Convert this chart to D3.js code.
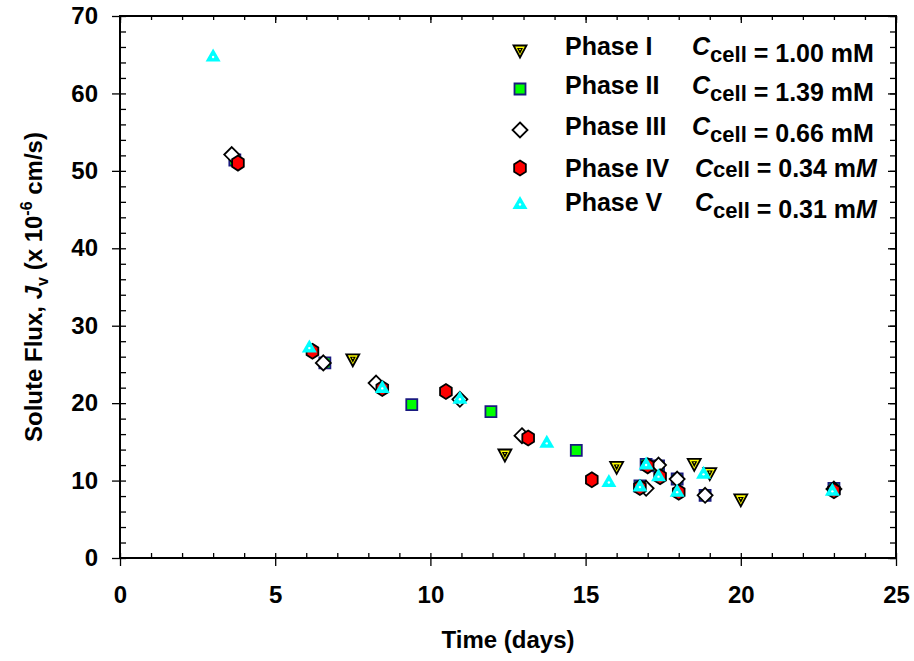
<!DOCTYPE html>
<html>
<head>
<meta charset="utf-8">
<script src="https://cdn.jsdelivr.net/npm/d3@7.9.0/dist/d3.min.js"></script>
<style>
  body { margin: 0; background: #fff; }
  svg { font-family: "Liberation Sans", Arial, sans-serif; font-weight: bold; }
</style>
</head>
<body>
<svg id="chart" width="914" height="661"></svg>
<script>
// tick labels
const xTicks = [0, 5, 10, 15, 20, 25];
const yTicks = [0, 10, 20, 30, 40, 50, 60, 70];

// series (days, flux x 1e-6 cm/s)
const phase1Days = [7.5, 12.4, 16.0, 18.5, 19.0, 20.0];
const phase1Flux = [25.6, 13.3, 11.7, 12.1, 10.9, 7.5];

const phase2Days = [3.7, 6.6, 9.4, 11.95, 14.7, 16.75, 16.95, 17.35, 17.95, 18.85, 23.0];
const phase2Flux = [51.4, 25.2, 19.8, 18.9, 13.9, 9.3, 12.1, 11.9, 10.2, 8.1, 9.0];

const phase3Days = [3.6, 6.55, 8.25, 10.95, 12.95, 16.95, 17.35, 17.95, 18.85, 23.0];
const phase3Flux = [52.1, 25.2, 22.6, 20.5, 15.8, 9.0, 12.0, 10.2, 8.1, 8.9];

const phase4Days = [3.8, 6.2, 8.45, 10.5, 13.15, 15.2, 16.75, 17.0, 17.4, 18.0, 23.0];
const phase4Flux = [51.0, 26.7, 21.9, 21.5, 15.5, 10.1, 9.1, 11.9, 10.5, 8.5, 8.7];

const phase5Days = [3.0, 6.1, 8.45, 10.95, 13.75, 15.75, 16.75, 16.95, 17.35, 17.95, 18.8, 22.95];
const phase5Flux = [64.9, 27.3, 22.1, 20.7, 15.0, 9.95, 9.35, 12.2, 10.7, 8.7, 11.0, 8.8];

const phaseNames = ["Phase I", "Phase II", "Phase III", "Phase IV", "Phase V"];
const phaseConc = ["1.00", "1.39", "0.66", "0.34", "0.31"];

const svg = d3.select("#chart");
const margin = { top: 16, right: 18, bottom: 103, left: 120 };
const width = 914 - margin.left - margin.right;
const height = 661 - margin.top - margin.bottom;

const g = svg.append("g").attr("transform", `translate(${margin.left},${margin.top})`);

const x = d3.scaleLinear().domain([0, 25]).range([0, width]);
const y = d3.scaleLinear().domain([0, 70]).range([height, 0]);

// marker shapes
function shapePath(kind) {
  switch (kind) {
    case "tridown": return "M-6.5,-5.5L6.5,-5.5L0,6.5Z";
    case "square": return "M-5.5,-5.5H5.5V5.5H-5.5Z";
    case "diamond": return "M0,-7.5L7.5,0L0,7.5L-7.5,0Z";
    case "hex": {
      const r = 7.5;
      return d3.range(6).map(i => {
        const a = Math.PI / 3 * i - Math.PI / 2;
        return (i ? "L" : "M") + (r * 0.9 * Math.cos(a)).toFixed(2) + "," + (r * Math.sin(a)).toFixed(2);
      }).join("") + "Z";
    }
    case "triup": return "M0,-7L7.5,6L-7.5,6Z";
  }
}

const styles = [
  { kind: "tridown", fill: "#ffff00", stroke: "#000" },
  { kind: "square", fill: "#00ff00", stroke: "#1a1a80" },
  { kind: "diamond", fill: "#ffffff", stroke: "#000" },
  { kind: "hex", fill: "#ff0000", stroke: "#000" },
  { kind: "triup", fill: "#00ffff", stroke: "none" }
];

function drawMarker(sel, st) {
  sel.append("path")
    .attr("d", shapePath(st.kind))
    .attr("fill", st.fill)
    .attr("stroke", st.stroke)
    .attr("stroke-width", 1.8)
    .attr("stroke-linejoin", "miter");
  if (st.kind === "tridown") {
    sel.append("path").attr("d", "M-3,-3L3,-3L0,3Z").attr("fill", "#000");
    sel.append("circle").attr("r", 0.8).attr("cy", -1.5).attr("fill", "#ffff00");
  }
  if (st.kind === "triup") {
    sel.append("circle").attr("r", 1.2).attr("cy", 1.5).attr("fill", "#fff");
  }
}

// axes: major ticks outside, minor ticks inside
g.append("g").attr("transform", `translate(0,${height})`)
  .call(d3.axisBottom(x).tickValues(xTicks).tickSize(8).tickPadding(20))
  .call(a => a.select(".domain").remove());
g.append("g").attr("transform", `translate(0,${height})`)
  .call(d3.axisTop(x).tickValues(d3.range(0, 26, 1)).tickSize(5).tickFormat(""))
  .call(a => a.select(".domain").remove());
g.append("g")
  .call(d3.axisLeft(y).tickValues(yTicks).tickSize(8).tickPadding(14))
  .call(a => a.select(".domain").remove());
g.append("g")
  .call(d3.axisRight(y).tickValues(d3.range(0, 71, 2)).tickSize(6).tickFormat(""))
  .call(a => a.select(".domain").remove());
// top and right frame ticks
g.append("g")
  .call(d3.axisBottom(x).tickValues(d3.range(0, 26, 1)).tickSize(4).tickFormat(""))
  .call(a => a.select(".domain").remove());
g.append("g")
  .call(d3.axisBottom(x).tickValues(xTicks).tickSize(7).tickFormat(""))
  .call(a => a.select(".domain").remove());
g.append("g").attr("transform", `translate(${width},0)`)
  .call(d3.axisLeft(y).tickValues(d3.range(0, 71, 2)).tickSize(6).tickFormat(""))
  .call(a => a.select(".domain").remove());
g.append("g").attr("transform", `translate(${width},0)`)
  .call(d3.axisLeft(y).tickValues(yTicks).tickSize(8).tickFormat(""))
  .call(a => a.select(".domain").remove());

g.selectAll(".tick line").attr("stroke", "#000").attr("stroke-width", 1.3);
g.selectAll(".tick text").attr("font-size", 24).attr("font-weight", "bold")
  .attr("font-family", "'Liberation Sans', Arial, sans-serif").attr("fill", "#000");

g.append("rect")
  .attr("width", width).attr("height", height)
  .attr("fill", "none").attr("stroke", "#000").attr("stroke-width", 2);

// data points
const allDays = [phase1Days, phase2Days, phase3Days, phase4Days, phase5Days];
const allFlux = [phase1Flux, phase2Flux, phase3Flux, phase4Flux, phase5Flux];

allDays.forEach((days, i) => {
  const pts = days.map((d, j) => ({ d, v: allFlux[i][j] }));
  g.append("g").selectAll("g")
    .data(pts)
    .join("g")
    .attr("transform", p => `translate(${x(p.d)},${y(p.v)})`)
    .each(function() { drawMarker(d3.select(this), styles[i]); });
});

// legend
const legendY = [51, 89, 130, 168, 203];
const baseY = [55, 94, 135, 177, 211];
phaseNames.forEach((name, i) => {
  const m = svg.append("g").attr("transform", `translate(520,${legendY[i]})`);
  drawMarker(m, styles[i]);
  svg.append("text").attr("x", 565).attr("y", baseY[i])
    .attr("font-size", 25).text(name);
  const cx = i < 3 ? 692 : 695;
  const t = svg.append("text").attr("x", cx).attr("y", baseY[i]).attr("font-size", 25);
  t.append("tspan").attr("font-style", "italic").text("C");
  if (i === 3) {
    t.append("tspan").attr("font-size", 22).text("cell");
  } else {
    t.append("tspan").attr("font-size", 22).attr("dy", 7).text("cell");
    t.append("tspan").attr("dy", -7).text("");
  }
  t.append("tspan").text(` = ${phaseConc[i]} m`);
  t.append("tspan").attr("font-style", i >= 3 ? "italic" : "normal").text("M");
});

// axis titles
svg.append("text")
  .attr("x", margin.left + width / 2).attr("y", 648)
  .attr("text-anchor", "middle").attr("font-size", 24)
  .text("Time (days)");

const yt = svg.append("text")
  .attr("transform", `translate(42,${margin.top + height / 2}) rotate(-90)`)
  .attr("text-anchor", "middle").attr("font-size", 24);
yt.append("tspan").text("Solute Flux, ");
yt.append("tspan").attr("font-style", "italic").text("J");
yt.append("tspan").attr("font-size", 16).attr("dy", 6).text("v");
yt.append("tspan").attr("dy", -6).text(" (x 10");
yt.append("tspan").attr("font-size", 16).attr("dy", -10).text("-6");
yt.append("tspan").attr("dy", 10).text(" cm/s)");
</script>
</body>
</html>
